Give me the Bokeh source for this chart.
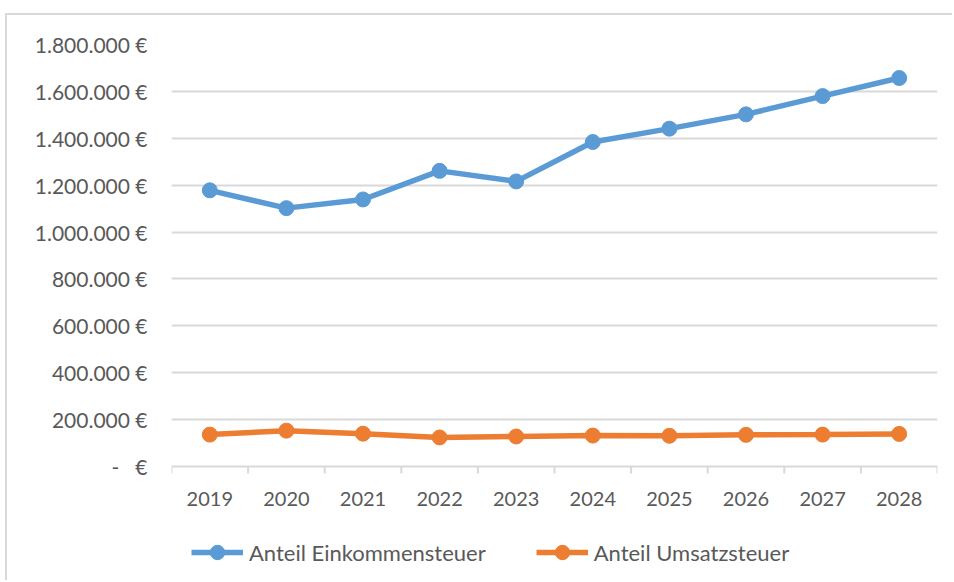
from bokeh.plotting import figure
from bokeh.models import (Range1d, FixedTicker, Legend, LegendItem, ColumnDataSource)
from bokeh.embed import file_html
from bokeh.resources import INLINE

years = ["2019", "2020", "2021", "2022", "2023", "2024", "2025", "2026", "2027", "2028"]
einkommensteuer = [1178000, 1102000, 1139000, 1261000, 1216000, 1384000, 1441000, 1502000, 1580000, 1657000]
umsatzsteuer = [136000, 153000, 140000, 124000, 128000, 132000, 131000, 135000, 136000, 139000]
y_ticks = [0, 200000, 400000, 600000, 800000, 1000000, 1200000, 1400000, 1600000, 1800000]

NB = "\u00a0"

def eur(v):
    if v == 0:
        return "-" + NB * 3 + "€"
    return f"{v:,.0f}{NB}€".replace(",", ".")

FONT = "Lato"
TXT = "#595959"
GRID = "#d9d9d9"
BLUE = "#5b9bd5"
ORANGE = "#ed7d31"

# layout (pixels)
W, H = 947, 567
TOP, LEFT, RIGHT = 29, 164, 17
PLOT_PX = 422          # pixels from 0 to y max
Y_MAX = max(y_ticks)
frame_px = H - TOP
per_px = Y_MAX / PLOT_PX
y_min = -(frame_px - PLOT_PX) * per_px

n = len(years)
x_pos = [i + 0.5 for i in range(n)]
bounds = list(range(n + 1))
src = ColumnDataSource(dict(x=x_pos, est=einkommensteuer, ust=umsatzsteuer, year=years))

p = figure(width=W, height=H, output_backend="svg", toolbar_location=None,
           x_range=Range1d(0, n), y_range=Range1d(y_min, Y_MAX),
           x_axis_location=None,
           min_border_left=LEFT, min_border_right=RIGHT, min_border_top=TOP, min_border_bottom=0)
p.styles = {"margin-left": "5px", "margin-top": "13px",
            "border-left": "2px solid #d9d9d9", "border-top": "2px solid #d9d9d9"}
p.outline_line_color = None
p.background_fill_color = "white"
p.border_fill_color = "white"
p.xgrid.grid_line_color = None

# y axis
p.yaxis.ticker = FixedTicker(ticks=y_ticks)
p.yaxis.major_label_overrides = {v: eur(v) for v in y_ticks}
p.yaxis.axis_line_color = None
p.yaxis.major_tick_line_color = None
p.yaxis.minor_tick_line_color = None
p.yaxis.major_label_text_font = FONT
p.yaxis.major_label_text_font_size = "21px"
p.yaxis.major_label_text_color = TXT
p.yaxis.major_label_standoff = 18
p.ygrid.grid_line_color = GRID
p.ygrid.grid_line_width = 2

# category axis drawn inside the extended frame: tick marks at boundaries, labels at centres
p.segment(x0=bounds, y0=[0] * len(bounds), x1=bounds, y1=[-7 * per_px] * len(bounds),
          line_color=GRID, line_width=2)
p.text(x="x", y=0, text="year", source=src, text_align="center", text_baseline="middle",
       y_offset=32, text_font_size="20px", text_color=TXT, text_font={"value": FONT})

r1 = p.line("x", "est", source=src, line_color=BLUE, line_width=5.5)
s1 = p.scatter("x", "est", source=src, size=15, fill_color=BLUE, line_color=BLUE)
r2 = p.line("x", "ust", source=src, line_color=ORANGE, line_width=5.5)
s2 = p.scatter("x", "ust", source=src, size=15, fill_color=ORANGE, line_color=ORANGE)

legend = Legend(items=[LegendItem(label="Anteil Einkommensteuer", renderers=[r1, s1]),
                       LegendItem(label="Anteil Umsatzsteuer", renderers=[r2, s2])],
                orientation="horizontal", location=(20, 12))
legend.label_text_font = FONT
legend.label_text_font_size = "22px"
legend.label_text_color = TXT
legend.glyph_width = 52
legend.glyph_height = 36
legend.label_standoff = 6
legend.spacing = 50
legend.padding = 0
legend.margin = 0
legend.border_line_color = None
legend.background_fill_alpha = 0
p.add_layout(legend, "center")

open("out.html", "w").write(file_html(p, INLINE))
